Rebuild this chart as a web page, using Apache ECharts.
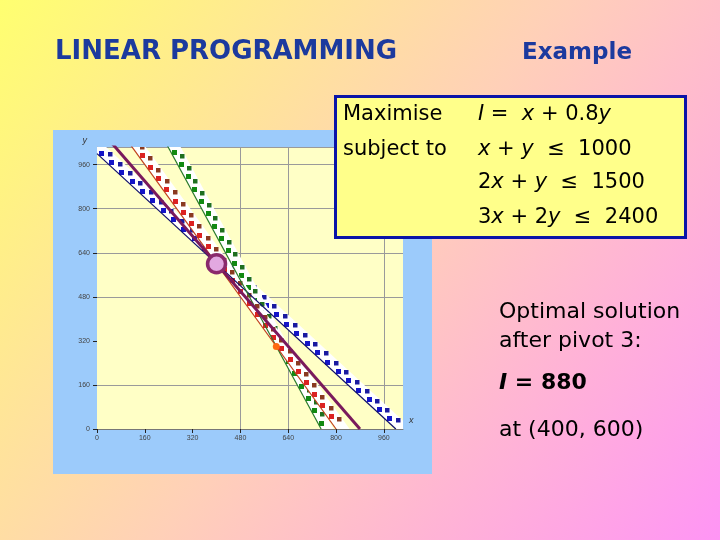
<!DOCTYPE html>
<html><head><meta charset="utf-8">
<script src="https://cdn.jsdelivr.net/npm/echarts@6/dist/echarts.min.js"></script>
<style>html,body{margin:0;padding:0;width:720px;height:540px;overflow:hidden}#c{width:720px;height:540px}</style>
</head><body><div id="c"></div>
<script>
// ---- data ----
const tickInterval = 160;
const axisMax = 1024;
const hGridValues = [160, 480, 640, 800, 960, 1024];
const vGridValues = [480, 640, 960];
const constraintNames = ['x + y ≤ 1000', '2x + y ≤ 1500', '3x + 2y ≤ 2400'];
const constraintStart = [[0, 1000], [0, 1500], [0, 1200]];
const constraintEnd = [[1000, 0], [750, 0], [800, 0]];
const objectiveLine = [[0, 1100], [880, 0]];
const optimumPoint = [[400, 600]];
const vertexPoints = [[600, 300]];

// ---- styles ----
const lineColors = ['#10106a', '#2a7a2a', '#c0401a'];
const bandColors = ['#1414c8', '#128a12', '#dc2222'];
const bandColors2 = ['#1a1aa0', '#1f6f1f', '#8a3a20'];
const FONT = 'DejaVu Sans';

const chart = echarts.init(document.getElementById('c'), null, {renderer: 'canvas'});

const bandData = constraintStart.map((s, i) => [s[0], s[1], constraintEnd[i][0], constraintEnd[i][1]]);

function renderBand(params, api) {
  const p1 = api.coord([api.value(0), api.value(1)]);
  const p2 = api.coord([api.value(2), api.value(3)]);
  const cs = params.coordSys;
  const dx = p2[0] - p1[0], dy = p2[1] - p1[1];
  const len = Math.sqrt(dx * dx + dy * dy);
  const ux = dx / len, uy = dy / len;
  const nx = uy, ny = -ux;
  const W = 11;
  const i = params.dataIndex;
  const children = [{
    type: 'rect',
    x: p1[0], y: p1[1],
    rotation: -Math.atan2(dy, dx),
    shape: {x: -20, y: -W, width: len + 40, height: W},
    style: {fill: '#ffffff'}
  }];
  const step = 14;
  const rows = [{off: 3.2, shift: 0, size: 5}, {off: 8, shift: step / 2, size: 4.5}];
  rows.forEach((r, k) => {
    for (let t = r.shift + 3; t < len; t += step) {
      const cx = p1[0] + ux * t + nx * r.off;
      const cy = p1[1] + uy * t + ny * r.off;
      if (cx < cs.x || cx > cs.x + cs.width || cy < cs.y || cy > cs.y + cs.height) continue;
      children.push({
        type: 'rect',
        shape: {x: Math.round(cx - r.size / 2), y: Math.round(cy - r.size / 2), width: r.size, height: r.size},
        style: {fill: k === 1 ? bandColors2[i] : bandColors[i]}
      });
    }
  });
  return {type: 'group', children};
}

const lineSeries = constraintStart.map((s, i) => ({
  type: 'line',
  name: constraintNames[i],
  data: [s, constraintEnd[i]],
  symbol: 'none',
  clip: true,
  z: 8,
  lineStyle: {color: lineColors[i], width: 1.2},
  silent: true
}));

const richI = {i: {fontStyle: 'italic', fontFamily: FONT, fontSize: 21}};

const option = {
  backgroundColor: new echarts.graphic.LinearGradient(0, 0, 1, 1, [
    {offset: 0, color: '#ffff70'},
    {offset: 0.5, color: '#ffd0b8'},
    {offset: 1, color: '#ff95f5'}
  ]),
  animation: false,
  grid: {left: 97, right: 317, top: 147, bottom: 111, show: false},
  xAxis: {
    type: 'value', min: 0, max: axisMax, interval: tickInterval,
    name: 'x', nameLocation: 'end', nameGap: 6,
    nameTextStyle: {fontSize: 9, fontStyle: 'italic', color: '#333', verticalAlign: 'bottom', padding: [0, 0, 4, 0]},
    axisLine: {show: true, lineStyle: {color: '#777', width: 1}},
    axisTick: {show: true, length: 4, lineStyle: {color: '#222'}},
    axisLabel: {fontSize: 7, color: '#444', margin: 6, showMaxLabel: false, fontFamily: 'Liberation Sans'},
    splitLine: {show: false}
  },
  yAxis: {
    type: 'value', min: 0, max: axisMax, interval: tickInterval,
    name: 'y', nameLocation: 'end', nameGap: 2,
    nameTextStyle: {fontSize: 9, fontStyle: 'italic', color: '#333', align: 'right', padding: [0, 10, 0, 0]},
    axisLine: {show: true, lineStyle: {color: '#bbb', width: 1}},
    axisTick: {show: true, length: 4, lineStyle: {color: '#222'}},
    axisLabel: {fontSize: 7, color: '#444', margin: 7, showMaxLabel: false, fontFamily: 'Liberation Sans'},
    splitLine: {show: false}
  },
  graphic: [
    {type: 'rect', z: 0, shape: {x: 53, y: 130, width: 379, height: 344}, style: {fill: '#9ccbfb'}},
    {type: 'text', z: 20, x: 55, y: 52, style: {text: 'LINEAR PROGRAMMING', font: 'bold 26px "' + FONT + '"', fill: '#1c3a9e', verticalAlign: 'middle'}},
    {type: 'text', z: 20, x: 522, y: 53, style: {text: 'Example', font: 'bold 23px "' + FONT + '"', fill: '#1c3a9e', verticalAlign: 'middle'}},
    {type: 'rect', z: 20, shape: {x: 335.5, y: 96.5, width: 350, height: 141}, style: {fill: '#ffff8a', stroke: '#0a14a8', lineWidth: 3}},
    {type: 'text', z: 21, x: 343, y: 115, style: {text: 'Maximise', font: '21px "' + FONT + '"', fill: '#000', verticalAlign: 'middle'}},
    {type: 'text', z: 21, x: 343, y: 150, style: {text: 'subject to', font: '21px "' + FONT + '"', fill: '#000', verticalAlign: 'middle'}},
    {type: 'text', z: 21, x: 478, y: 115, style: {text: '{i|I} =  {i|x} + 0.8{i|y}', font: '21px "' + FONT + '"', fill: '#000', verticalAlign: 'middle', rich: richI}},
    {type: 'text', z: 21, x: 478, y: 150, style: {text: '{i|x} + {i|y}  ≤  1000', font: '21px "' + FONT + '"', fill: '#000', verticalAlign: 'middle', rich: richI}},
    {type: 'text', z: 21, x: 478, y: 183, style: {text: '2{i|x} + {i|y}  ≤  1500', font: '21px "' + FONT + '"', fill: '#000', verticalAlign: 'middle', rich: richI}},
    {type: 'text', z: 21, x: 478, y: 218, style: {text: '3{i|x} + 2{i|y}  ≤  2400', font: '21px "' + FONT + '"', fill: '#000', verticalAlign: 'middle', rich: richI}},
    {type: 'text', z: 21, x: 499, y: 312, style: {text: 'Optimal solution', font: '22px "' + FONT + '"', fill: '#000', verticalAlign: 'middle'}},
    {type: 'text', z: 21, x: 499, y: 341, style: {text: 'after pivot 3:', font: '22px "' + FONT + '"', fill: '#000', verticalAlign: 'middle'}},
    {type: 'text', z: 21, x: 499, y: 383, style: {text: '{i|I} = 880', font: 'bold 22px "' + FONT + '"', fill: '#000', verticalAlign: 'middle', rich: {i: {fontStyle: 'italic', fontWeight: 'bold', fontFamily: FONT, fontSize: 22}}}},
    {type: 'text', z: 21, x: 499, y: 430, style: {text: 'at (400, 600)', font: '22px "' + FONT + '"', fill: '#000', verticalAlign: 'middle'}}
  ],
  series: [
    {
      type: 'line', name: 'grid', data: [], symbol: 'none', z: 1, silent: true,
      markArea: {
        silent: true,
        itemStyle: {color: '#ffffc6'},
        data: [[{xAxis: 0, yAxis: 0}, {xAxis: axisMax, yAxis: axisMax}]]
      },
      markLine: {
        silent: true, symbol: 'none', label: {show: false},
        lineStyle: {color: '#9a9a9a', width: 1, type: 'solid'},
        data: hGridValues.map(v => ({yAxis: v})).concat(vGridValues.map(v => ({xAxis: v})))
      }
    },
    {
      type: 'custom', name: 'bands', data: bandData, renderItem: renderBand, clip: true, z: 7, silent: true,
      encode: {x: [0, 2], y: [1, 3]}
    },
    ...lineSeries,
    {
      type: 'line', name: 'I = x + 0.8y', data: objectiveLine, symbol: 'none', clip: true, z: 9, silent: true,
      lineStyle: {color: '#7a1a5c', width: 3}
    },
    {
      type: 'scatter', name: 'vertex', data: vertexPoints, symbol: 'circle', symbolSize: 7, z: 10,
      itemStyle: {color: '#ff6a10', opacity: 1}
    },
    {
      type: 'scatter', name: 'optimum', data: optimumPoint, symbol: 'circle', symbolSize: 18, z: 11,
      itemStyle: {color: '#e2a8e0', borderColor: '#8a2a6c', borderWidth: 3.5, opacity: 1}
    }
  ]
};
chart.setOption(option);
</script>
</body></html>
